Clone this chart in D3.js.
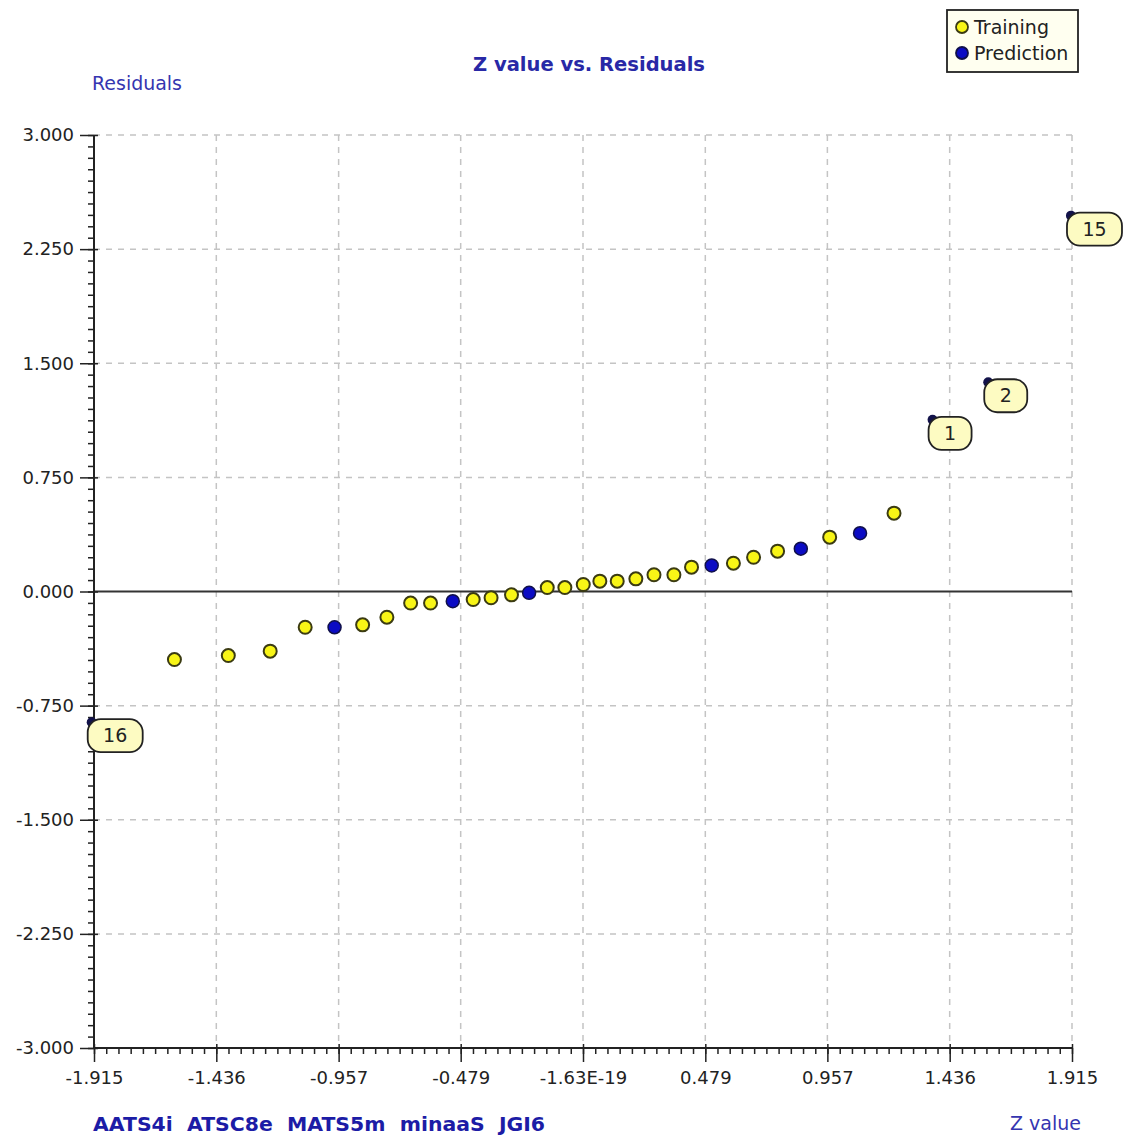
<!DOCTYPE html>
<html>
<head>
<meta charset="utf-8">
<script src="https://cdn.jsdelivr.net/npm/d3@7"></script>
<style>
  html, body { margin: 0; padding: 0; background: #ffffff; }
  svg { display: block; }
</style>
</head>
<body>
<svg id="chart" width="1125" height="1140"></svg>
<script>
// ---- Data ----
const trainingZ   = [-1.600, -1.389, -1.225, -1.088, -0.863, -0.768, -0.675, -0.597, -0.430, -0.360, -0.280, -0.140, -0.071, 0.001, 0.066, 0.134, 0.207, 0.278, 0.356, 0.425, 0.589, 0.668, 0.762, 0.966, 1.218];
const trainingRes = [-0.447, -0.421, -0.392, -0.235, -0.219, -0.169, -0.076, -0.076, -0.053, -0.041, -0.022, 0.026, 0.026, 0.046, 0.068, 0.068, 0.083, 0.110, 0.110, 0.160, 0.186, 0.225, 0.265, 0.357, 0.515];
const predictionZ   = [-0.973, -0.510, -0.211, 0.504, 0.853, 1.085];
const predictionRes = [-0.235, -0.064, -0.009, 0.171, 0.281, 0.383];
const outlierZ      = [1.369, 1.587, 1.911, -1.924];
const outlierRes    = [1.128, 1.375, 2.470, -0.859];
const outlierLabels = ["1", "2", "15", "16"];
const xTickValues = [-1.915, -1.436, -0.957, -0.479, 0, 0.479, 0.957, 1.436, 1.915];
const xTickLabels = ["-1.915", "-1.436", "-0.957", "-0.479", "-1.63E-19", "0.479", "0.957", "1.436", "1.915"];
const yTickValues = [3.0, 2.25, 1.5, 0.75, 0.0, -0.75, -1.5, -2.25, -3.0];
const yTickLabels = ["3.000", "2.250", "1.500", "0.750", "0.000", "-0.750", "-1.500", "-2.250", "-3.000"];
const seriesNames = ["Training", "Prediction"];
const titleText = "Z value vs. Residuals";
const yAxisTitle = "Residuals";
const xAxisTitle = "Z value";
const descriptorText = "AATS4i  ATSC8e  MATS5m  minaaS  JGI6";

// ---- Layout ----
const svg = d3.select("#chart");
const pLeft = 94, pRight = 1072, pTop = 135, pBottom = 1048;
const x = d3.scaleLinear().domain([-1.915, 1.915]).range([pLeft, pRight]);
const y = d3.scaleLinear().domain([-3, 3]).range([pBottom, pTop]);
const font = "'DejaVu Sans', Verdana, sans-serif";

const trainFill = "#f8f516", trainStroke = "#3b3b12";
const predFill = "#0b0bc4", predStroke = "#10104a";

// Grid lines (dashed)
const grid = svg.append("g");
grid.selectAll("line.v").data(xTickValues.slice(1)).join("line")
  .attr("class", "v")
  .attr("x1", d => x(d)).attr("x2", d => x(d))
  .attr("y1", pTop).attr("y2", pBottom)
  .attr("stroke", "#c4c4c4").attr("stroke-width", 1.5).attr("stroke-dasharray", "6,6");
grid.selectAll("line.h").data(yTickValues.filter(d => d !== 0 && d !== -3)).join("line")
  .attr("class", "h")
  .attr("x1", pLeft).attr("x2", pRight)
  .attr("y1", d => y(d)).attr("y2", d => y(d))
  .attr("stroke", "#c4c4c4").attr("stroke-width", 1.5).attr("stroke-dasharray", "6,6");

// Zero line
svg.append("line")
  .attr("x1", pLeft).attr("x2", pRight).attr("y1", y(0)).attr("y2", y(0))
  .attr("stroke", "#333").attr("stroke-width", 2);

// Minor ticks
const xMinor = d3.range(0, 81).map(i => -1.915 + i * (3.83 / 80));
const yMinor = d3.range(0, 81).map(i => -3 + i * 0.075);

svg.append("g").attr("transform", `translate(0,${pBottom})`)
  .call(d3.axisBottom(x).tickValues(xMinor).tickSize(6).tickFormat(""))
  .call(g => g.select(".domain").remove())
  .call(g => g.selectAll("line").attr("stroke", "#222").attr("stroke-width", 1.5));
svg.append("g").attr("transform", `translate(${pLeft},0)`)
  .call(d3.axisLeft(y).tickValues(yMinor).tickSize(6).tickFormat(""))
  .call(g => g.select(".domain").remove())
  .call(g => g.selectAll("line").attr("stroke", "#222").attr("stroke-width", 1.5));

// Major axes
const xAxis = svg.append("g").attr("transform", `translate(0,${pBottom})`)
  .call(d3.axisBottom(x).tickValues(xTickValues).tickSize(14).tickPadding(9)
        .tickFormat((d, i) => xTickLabels[i]));
xAxis.select(".domain").attr("d", `M${pLeft},0H${pRight}`).attr("stroke", "#222").attr("stroke-width", 2);
xAxis.selectAll(".tick line").attr("y1", -4).attr("stroke", "#222").attr("stroke-width", 1.5);
xAxis.selectAll("text").attr("font-family", font).attr("font-size", 18).attr("fill", "#222");

const yAxis = svg.append("g").attr("transform", `translate(${pLeft},0)`)
  .call(d3.axisLeft(y).tickValues(yTickValues).tickSize(14).tickPadding(6)
        .tickFormat((d, i) => yTickLabels[i]));
yAxis.select(".domain").attr("d", `M0,${pTop}V${pBottom}`).attr("stroke", "#222").attr("stroke-width", 2);
yAxis.selectAll(".tick line").attr("x1", 4).attr("x2", -14).attr("stroke", "#222").attr("stroke-width", 1.5);
yAxis.selectAll("text").attr("font-family", font).attr("font-size", 18).attr("fill", "#222");

// Points
const training = trainingZ.map((z, i) => ({ z, r: trainingRes[i] }));
const prediction = predictionZ.map((z, i) => ({ z, r: predictionRes[i] }));
const outliers = outlierZ.map((z, i) => ({ z, r: outlierRes[i], label: outlierLabels[i] }));

svg.append("g").selectAll("circle").data(training).join("circle")
  .attr("cx", d => x(d.z)).attr("cy", d => y(d.r)).attr("r", 6.5)
  .attr("fill", trainFill).attr("stroke", trainStroke).attr("stroke-width", 2);
svg.append("g").selectAll("circle").data(prediction).join("circle")
  .attr("cx", d => x(d.z)).attr("cy", d => y(d.r)).attr("r", 6.5)
  .attr("fill", predFill).attr("stroke", predStroke).attr("stroke-width", 1.5);

// Outlier points with labels
const boxW = d => d.label.length > 1 ? 55 : 43;
const og = svg.append("g").selectAll("g").data(outliers).join("g")
  .attr("transform", d => `translate(${x(d.z)},${y(d.r)})`);
og.append("circle").attr("r", 5).attr("fill", "#12124a");
og.append("rect")
  .attr("x", -4).attr("y", -3)
  .attr("width", boxW).attr("height", 33)
  .attr("rx", 13).attr("ry", 13)
  .attr("fill", "#fdfbc2").attr("stroke", "#222").attr("stroke-width", 1.8);
og.append("text")
  .attr("x", d => -4 + boxW(d) / 2).attr("y", 20)
  .attr("text-anchor", "middle")
  .attr("font-family", font).attr("font-size", 19).attr("fill", "#222")
  .text(d => d.label);

// Titles
svg.append("text").attr("x", 589).attr("y", 71).attr("text-anchor", "middle")
  .attr("font-family", font).attr("font-size", 19).attr("font-weight", "bold")
  .attr("fill", "#2828a6").attr("textLength", 232).attr("lengthAdjust", "spacingAndGlyphs")
  .text(titleText);
svg.append("text").attr("x", 92).attr("y", 90)
  .attr("font-family", font).attr("font-size", 19).attr("fill", "#3535b0")
  .attr("textLength", 90).attr("lengthAdjust", "spacingAndGlyphs").text(yAxisTitle);
svg.append("text").attr("x", 1081).attr("y", 1130).attr("text-anchor", "end")
  .attr("font-family", font).attr("font-size", 19).attr("fill", "#3535b0").text(xAxisTitle);
svg.append("text").attr("x", 93).attr("y", 1131)
  .attr("font-family", font).attr("font-size", 19).attr("font-weight", "bold")
  .attr("fill", "#1c1ca6").attr("textLength", 452).attr("lengthAdjust", "spacingAndGlyphs")
  .style("white-space", "pre").text(descriptorText);

// Legend
const lg = svg.append("g").attr("transform", "translate(947,10)");
lg.append("rect").attr("width", 131).attr("height", 62)
  .attr("fill", "#fffff0").attr("stroke", "#222").attr("stroke-width", 1.8);
const items = lg.selectAll("g.item").data(seriesNames).join("g")
  .attr("class", "item")
  .attr("transform", (d, i) => `translate(15,${17 + i * 26})`);
items.append("circle").attr("r", 6)
  .attr("fill", (d, i) => i === 0 ? trainFill : predFill)
  .attr("stroke", (d, i) => i === 0 ? trainStroke : predStroke).attr("stroke-width", 1.8);
items.append("text").attr("x", 12).attr("y", 7)
  .attr("font-family", font).attr("font-size", 19).attr("fill", "#222").text(d => d);
</script>
</body>
</html>
